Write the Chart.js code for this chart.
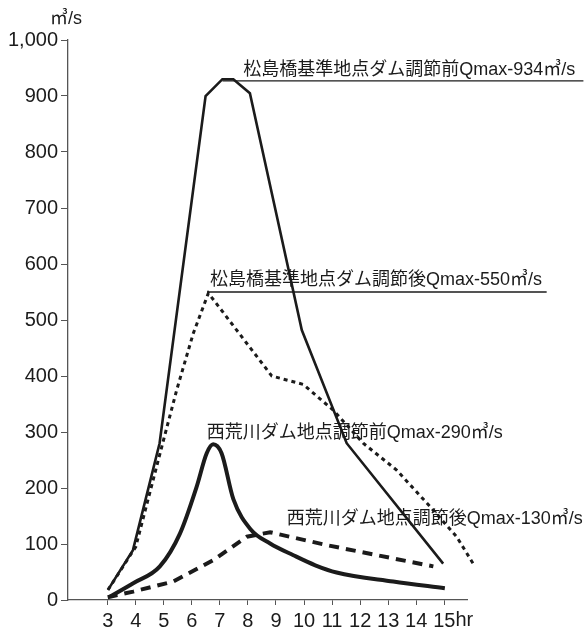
<!DOCTYPE html>
<html>
<head>
<meta charset="utf-8">
<script src="https://cdn.jsdelivr.net/npm/chart.js@4/dist/chart.umd.min.js"></script>
<style>
  html, body { margin: 0; padding: 0; background: #fff; }
  #wrap { width: 587px; height: 628px; position: relative; }
</style>
</head>
<body>
<div id="wrap"><canvas id="flowChart"></canvas></div>
<script>
// hours on x axis, flow (m3/s) on y axis
const X_TICKS = [3, 4, 5, 6, 7, 8, 9, 10, 11, 12, 13, 14, 15];

// 松島橋基準地点 ダム調節前 (thin solid)
const MATSU_BEFORE_HR = [3.01, 3.9, 4.85, 6.49, 7.09, 7.48, 8.07, 9.92, 11.52, 14.96];
const MATSU_BEFORE_Q = [18, 89, 280, 900, 930, 930, 905, 482, 280, 65];

// 松島橋基準地点 ダム調節後 (dotted)
const MATSU_AFTER_HR = [3.01, 4.0, 4.93, 5.46, 6.05, 6.59, 8.85, 9.97, 11.04, 12.11, 13.3, 14.49, 15.44, 16.03];
const MATSU_AFTER_Q = [18, 95, 274, 375, 476, 548, 400, 385, 339, 280, 232, 167, 113, 65];

// 西荒川ダム地点 調節前 (thick solid)
const NISHI_BEFORE_HR = [3.08, 3.91, 4.86, 5.58, 6.17, 6.53, 6.76, 7.06, 7.48, 8.1, 8.79, 9.62, 10.4, 11.16, 13.18, 15.02];
const NISHI_BEFORE_Q = [6, 30, 60, 119, 202, 262, 278, 262, 180, 126, 101, 80, 62, 49, 33, 21];

// 西荒川ダム地点 調節後 (thick dashed)
const NISHI_AFTER_HR = [3.0, 3.91, 5.34, 6.76, 7.96, 8.79, 10.81, 14.61];
const NISHI_AFTER_Q = [5, 15, 33, 71, 113, 121, 98, 60];

const INK = '#1b1b1b';
const TICK_FONT = { family: '"Liberation Sans", Arial, sans-serif', size: 20 };
const NOTE_FONT = '18px "Liberation Sans", "Noto Sans CJK JP", sans-serif';

// callouts, placed in data units
const NOTES = [
  { text: '松島橋基準地点ダム調節前Qmax-934㎥/s', x: 7.83, y: 946, line: { from: 7.09, to: 19.96, y: 927 } },
  { text: '松島橋基準地点ダム調節後Qmax-550㎥/s', x: 6.65, y: 571, line: { from: 6.54, to: 18.65, y: 550 } },
  { text: '西荒川ダム地点調節前Qmax-290㎥/s', x: 6.53, y: 298 },
  { text: '西荒川ダム地点調節後Qmax-130㎥/s', x: 9.38, y: 144 }
];

function toPoints(xs, ys) {
  return xs.map((x, i) => ({ x: x, y: ys[i] }));
}

const notesPlugin = {
  id: 'notes',
  afterDatasetsDraw(chart) {
    const ctx = chart.ctx;
    const xs = chart.scales.x;
    const ys = chart.scales.y;
    ctx.save();
    ctx.fillStyle = INK;
    ctx.strokeStyle = INK;
    ctx.font = NOTE_FONT;
    ctx.textBaseline = 'middle';
    ctx.textAlign = 'left';
    NOTES.forEach(n => {
      ctx.fillText(n.text, xs.getPixelForValue(n.x), ys.getPixelForValue(n.y));
      if (n.line) {
        const yy = ys.getPixelForValue(n.line.y);
        ctx.lineWidth = 1.3;
        ctx.beginPath();
        ctx.moveTo(xs.getPixelForValue(n.line.from), yy);
        ctx.lineTo(xs.getPixelForValue(n.line.to), yy);
        ctx.stroke();
      }
    });

    // unit over the y axis
    ctx.fillText('㎥/s', 50, 19);

    // "hr" after the last hour label
    ctx.font = TICK_FONT.size + 'px ' + TICK_FONT.family;
    const last = X_TICKS[X_TICKS.length - 1];
    const w = ctx.measureText(String(last)).width;
    ctx.fillText('hr', xs.getPixelForValue(last) + w / 2, 620);
    ctx.restore();
  }
};

new Chart(document.getElementById('flowChart'), {
  type: 'line',
  data: {
    datasets: [
      {
        label: '松島橋基準地点ダム調節前',
        data: toPoints(MATSU_BEFORE_HR, MATSU_BEFORE_Q),
        borderColor: INK,
        borderWidth: 2.6,
        pointRadius: 0,
        clip: false
      },
      {
        label: '松島橋基準地点ダム調節後',
        data: toPoints(MATSU_AFTER_HR, MATSU_AFTER_Q),
        borderColor: INK,
        borderWidth: 3,
        borderDash: [4, 4],
        pointRadius: 0,
        clip: false
      },
      {
        label: '西荒川ダム地点調節前',
        data: toPoints(NISHI_BEFORE_HR, NISHI_BEFORE_Q),
        borderColor: INK,
        borderWidth: 4,
        cubicInterpolationMode: 'monotone',
        pointRadius: 0,
        clip: false
      },
      {
        label: '西荒川ダム地点調節後',
        data: toPoints(NISHI_AFTER_HR, NISHI_AFTER_Q),
        borderColor: INK,
        borderWidth: 4,
        borderDash: [10, 7],
        pointRadius: 0,
        clip: false
      }
    ]
  },
  options: {
    responsive: true,
    maintainAspectRatio: false,
    animation: false,
    layout: { padding: { top: 40, right: 120, bottom: 0, left: 0 } },
    plugins: {
      legend: { display: false },
      tooltip: { enabled: false }
    },
    scales: {
      x: {
        type: 'linear',
        min: 1.585,
        max: 15.81,
        afterBuildTicks: axis => { axis.ticks = X_TICKS.map(v => ({ value: v })); },
        afterFit: scale => { scale.height = 28; },
        border: { color: '#555', width: 1.3 },
        grid: { drawOnChartArea: false, drawTicks: true, tickLength: 5, color: '#555' },
        ticks: {
          autoSkip: false,
          maxRotation: 0,
          padding: 4,
          color: INK,
          font: TICK_FONT,
          callback: v => String(v)
        }
      },
      y: {
        min: 0,
        max: 1000,
        afterFit: scale => { scale.width = 68; },
        border: { color: '#555', width: 1.3 },
        grid: { drawOnChartArea: false, drawTicks: true, tickLength: 7, color: '#555' },
        ticks: {
          stepSize: 100,
          padding: 3,
          color: INK,
          font: TICK_FONT,
          callback: v => v.toLocaleString('en-US')
        }
      }
    }
  },
  plugins: [notesPlugin]
});
</script>
</body>
</html>
